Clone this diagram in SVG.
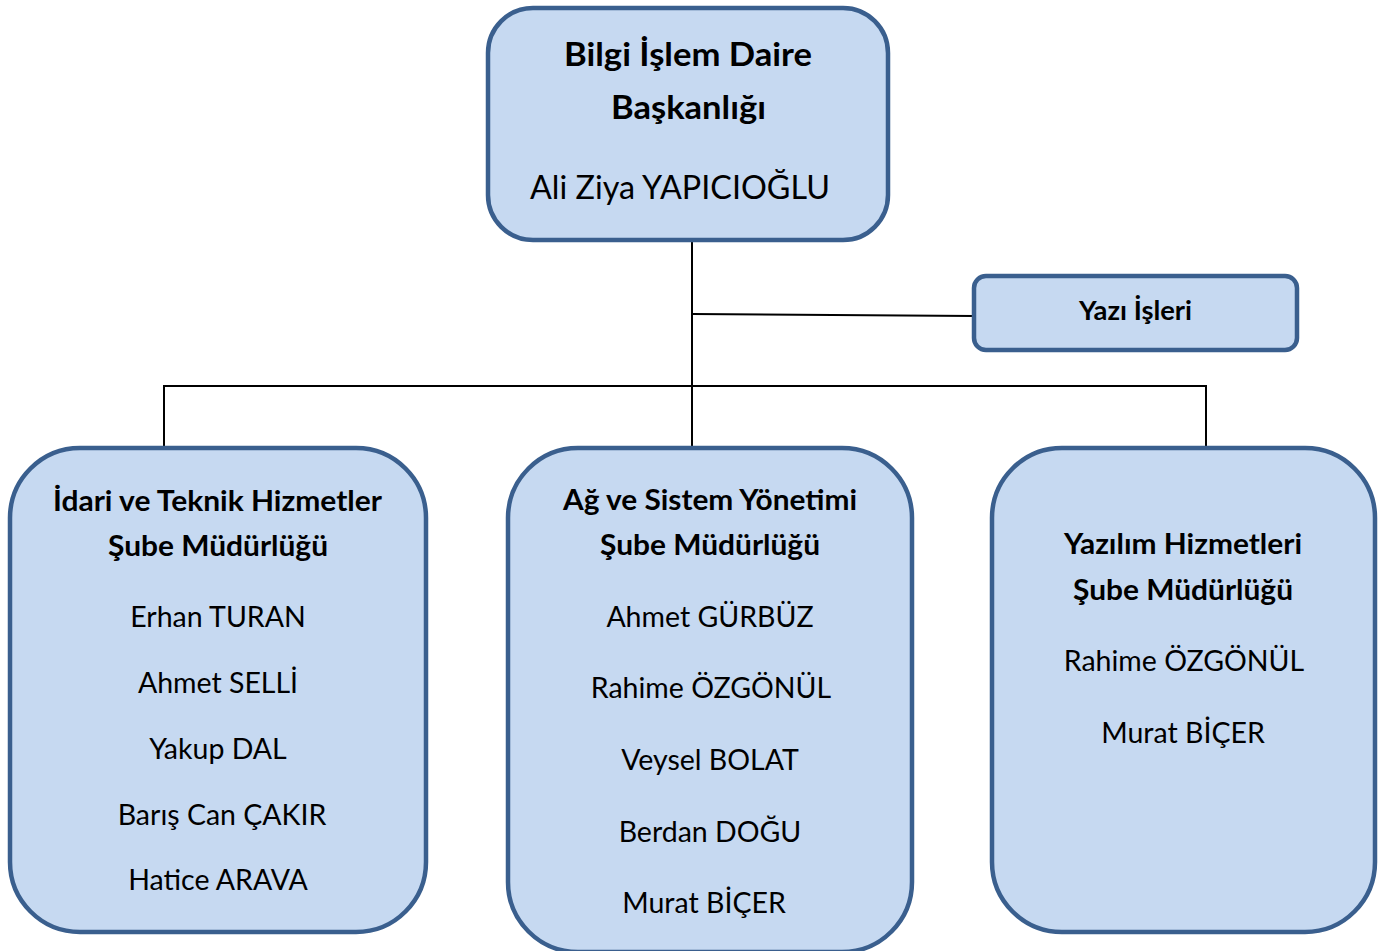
<svg xmlns="http://www.w3.org/2000/svg" width="1394" height="951" viewBox="0 0 1394 951">
<style>
.box{fill:#C6D9F1;stroke:#3A5F8E;stroke-width:4.5}
.b{font-family:Lato,"Open Sans","Liberation Sans",sans-serif;font-weight:bold;fill:#000;text-anchor:middle}
.r{font-family:Lato,"Open Sans","Liberation Sans",sans-serif;fill:#000;text-anchor:middle}
.c{stroke:#000;stroke-width:2;fill:none}
</style>
<rect width="1394" height="951" fill="#fff"/>
<g id="connectors">
<line class="c" x1="692" y1="240" x2="692" y2="448"/>
<line class="c" x1="692" y1="314" x2="974" y2="316"/>
<line class="c" x1="164" y1="386" x2="1206" y2="386"/>
<line class="c" x1="164" y1="385" x2="164" y2="448"/>
<line class="c" x1="1206" y1="385" x2="1206" y2="448"/>
</g>
<g id="daire">
<rect class="box" x="488" y="8" width="400" height="232" rx="45"/>
<text class="b" x="688" y="66" font-size="33" textLength="248" lengthAdjust="spacingAndGlyphs">Bilgi İşlem Daire</text>
<text class="b" x="688.5" y="119" font-size="33" textLength="155" lengthAdjust="spacingAndGlyphs">Başkanlığı</text>
<text class="r" x="680" y="199" font-size="32" textLength="300" lengthAdjust="spacingAndGlyphs">Ali Ziya YAPICIOĞLU</text>
</g>
<g id="yazi">
<rect class="box" x="974" y="276" width="323" height="74" rx="12"/>
<text class="b" x="1135.5" y="320" font-size="26" textLength="113" lengthAdjust="spacingAndGlyphs">Yazı İşleri</text>
</g>
<g id="idari">
<rect class="box" x="10" y="448" width="416" height="484" rx="70"/>
<text class="b" x="217.5" y="511" font-size="28" textLength="329" lengthAdjust="spacingAndGlyphs">İdari ve Teknik Hizmetler</text>
<text class="b" x="218" y="556" font-size="28" textLength="220" lengthAdjust="spacingAndGlyphs">Şube Müdürlüğü</text>
<text class="r" x="218" y="627" font-size="28.5">Erhan TURAN</text>
<text class="r" x="218" y="693" font-size="28.5">Ahmet SELLİ</text>
<text class="r" x="218" y="759" font-size="28.5">Yakup DAL</text>
<text class="r" x="222" y="825" font-size="28.5">Barış Can ÇAKIR</text>
<text class="r" x="218" y="890" font-size="28.5">Hatice ARAVA</text>
</g>
<g id="ag">
<rect class="box" x="508" y="448" width="404" height="504" rx="70"/>
<text class="b" x="710" y="510" font-size="28" textLength="294" lengthAdjust="spacingAndGlyphs">Ağ ve Sistem Yönetimi</text>
<text class="b" x="710" y="555" font-size="28" textLength="220" lengthAdjust="spacingAndGlyphs">Şube Müdürlüğü</text>
<text class="r" x="710" y="627" font-size="28.5">Ahmet GÜRBÜZ</text>
<text class="r" x="711" y="698" font-size="28.5">Rahime ÖZGÖNÜL</text>
<text class="r" x="710" y="770" font-size="28.5">Veysel BOLAT</text>
<text class="r" x="710" y="842" font-size="28.5">Berdan DOĞU</text>
<text class="r" x="704" y="913" font-size="28.5">Murat BİÇER</text>
</g>
<g id="yazilim">
<rect class="box" x="992" y="448" width="383" height="484" rx="70"/>
<text class="b" x="1183" y="554" font-size="28" textLength="238" lengthAdjust="spacingAndGlyphs">Yazılım Hizmetleri</text>
<text class="b" x="1183" y="600" font-size="28" textLength="220" lengthAdjust="spacingAndGlyphs">Şube Müdürlüğü</text>
<text class="r" x="1184" y="671" font-size="28.5">Rahime ÖZGÖNÜL</text>
<text class="r" x="1183" y="743" font-size="28.5">Murat BİÇER</text>
</g>
</svg>
